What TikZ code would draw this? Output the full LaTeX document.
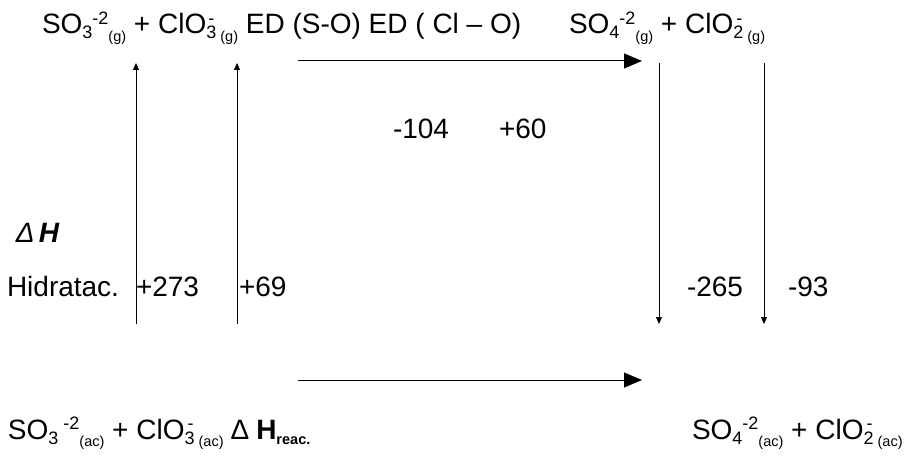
\documentclass[tikz,border=0pt]{standalone}
\usepackage{fontspec}
\setmainfont{Liberation Sans}
\usetikzlibrary{arrows.meta}
\newcommand\mysub[1]{\raisebox{-5pt}{\fontsize{18}{18}\selectfont #1}}
\newcommand\mysup[1]{\raisebox{9.5pt}{\fontsize{18}{18}\selectfont #1}}
\newcommand\mystate[1]{\raisebox{-7.5pt}{\fontsize{14.5}{14.5}\selectfont #1}}
\begin{document}
\begin{tikzpicture}[x=1pt,y=-1pt,
  txt/.style={anchor=base west,inner sep=0pt,outer sep=0pt,font=\fontsize{28}{33}\selectfont},
  bigarrow/.style={line width=1pt,-{Triangle[length=18pt,width=15pt]}},
  smallarrow/.style={line width=1pt,-{Triangle[length=7pt,width=6pt]}}]
\useasboundingbox (0,0) rectangle (908,465);
% equations
\node[txt] (gl) at (42,34) {SO\mysub{3}\mysup{-2}\mystate{(g)} + ClO\rlap{\mysup{\kern2pt-}}\mysub{3}\mystate{\ (g)} ED (S-O) ED ( Cl – O)};
\node[txt] (gr) at (569,34) {SO\mysub{4}\mysup{-2}\mystate{(g)} + ClO\rlap{\mysup{\kern3pt-}}\mysub{2}\mystate{\ (g)}};
\node[txt] (al) at (8,439) {SO\mysub{3}\mysup{\ -2}\mystate{(ac)} + ClO\rlap{\mysup{\kern3pt-}}\mysub{3}\mystate{\ (ac)} ∆ \textbf{H}\raisebox{-5pt}{\fontsize{14.5}{14.5}\selectfont\bfseries reac.}};
\node[txt] (ar) at (692,439) {SO\mysub{4}\mysup{-2}\mystate{(ac)} + ClO\rlap{\mysup{\kern3pt-}}\mysub{2}\mystate{\ (ac)}};
% labels
\node[txt] (dh) at (16,243) {\itshape Δ\kern4pt\bfseries H};
\node[txt] (hid) at (7,297) {Hidratac.};
\node[txt] (v273) at (136,297) {+273};
\node[txt] (v69) at (239,297) {+69};
\node[txt] (v265) at (687,296) {-265};
\node[txt] (v93) at (788,296) {-93};
\node[txt] (v104) at (393,139) {-104};
\node[txt] (v60) at (499,139) {+60};
% arrow end points
\coordinate (ht1) at (298,61);
\coordinate (ht2) at (642,61);
\coordinate (hb1) at (298,380);
\coordinate (hb2) at (642,380);
\coordinate (u1b) at (136,324);
\coordinate (u1t) at (136,63);
\coordinate (u2b) at (237,324);
\coordinate (u2t) at (237,63);
\coordinate (d1t) at (659,63);
\coordinate (d1b) at (659,324);
\coordinate (d2t) at (764,63);
\coordinate (d2b) at (764,324);
% arrows
\draw[bigarrow] (ht1) -- (ht2);
\draw[bigarrow] (hb1) -- (hb2);
\draw[smallarrow] (u1b) -- (u1t);
\draw[smallarrow] (u2b) -- (u2t);
\draw[smallarrow] (d1t) -- (d1b);
\draw[smallarrow] (d2t) -- (d2b);
\end{tikzpicture}
\end{document}
